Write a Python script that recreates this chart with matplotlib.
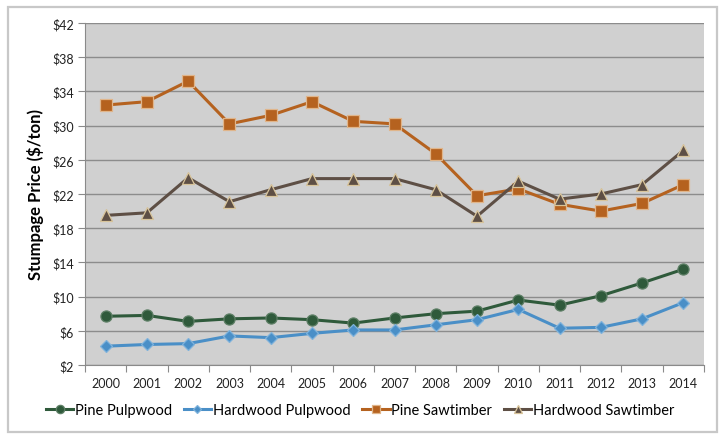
import matplotlib
matplotlib.use("Agg")
import matplotlib.pyplot as plt
from matplotlib.patches import Rectangle
import numpy as np

plt.rcParams['font.family'] = ['Lato', 'DejaVu Sans']

years = ["2000", "2001", "2002", "2003", "2004", "2005", "2006", "2007",
         "2008", "2009", "2010", "2011", "2012", "2013", "2014"]

pine_pulpwood = [7.7, 7.8, 7.1, 7.4, 7.5, 7.3, 6.9, 7.5, 8.0, 8.3, 9.6, 9.0, 10.1, 11.6, 13.2]
hardwood_pulpwood = [4.2, 4.4, 4.5, 5.4, 5.2, 5.7, 6.1, 6.1, 6.7, 7.3, 8.5, 6.3, 6.4, 7.4, 9.3]
pine_sawtimber = [32.4, 32.8, 35.2, 30.2, 31.2, 32.8, 30.5, 30.2, 26.7, 21.8, 22.6, 20.8, 20.0, 20.9, 23.1]
hardwood_sawtimber = [19.5, 19.8, 23.9, 21.1, 22.5, 23.8, 23.8, 23.8, 22.5, 19.4, 23.5, 21.4, 22.0, 23.1, 27.1]

y_ticks = [2, 6, 10, 14, 18, 22, 26, 30, 34, 38, 42]

fig = plt.figure(figsize=(7.2, 4.35), dpi=100)
fig.patch.set_facecolor("white")

# outer chart border
fig.patches.append(Rectangle((8 / 720, 2 / 435), 709 / 720, 425 / 435,
                             transform=fig.transFigure, fill=False,
                             edgecolor="#C8C8C8", linewidth=1.6))

ax = fig.add_axes([85 / 720, (435 - 366) / 435, (704 - 85) / 720, (366 - 24) / 435])
ax.set_facecolor("#D0D0D0")

x = np.arange(len(years))

series = [
    ("Pine Pulpwood", pine_pulpwood, "#2F5A3B", "o", 8, "#5E7F66"),
    ("Hardwood Pulpwood", hardwood_pulpwood, "#4A8FC7", "D", 6, "#7FB3DC"),
    ("Pine Sawtimber", pine_sawtimber, "#B5621F", "s", 8, "#E0B58A"),
    ("Hardwood Sawtimber", hardwood_sawtimber, "#5E4F45", "^", 8, "#D8C49A"),
]
for name, vals, col, mk, ms, edge in series:
    ax.plot(x, vals, color=col, linewidth=2.2, marker=mk, markersize=ms,
            markerfacecolor=col, markeredgecolor=edge, markeredgewidth=0.9,
            label=name, zorder=3)

ax.set_xlim(-0.5, len(years) - 0.5)
ax.set_ylim(2, 42)
ax.set_yticks(y_ticks)
ax.set_yticklabels([f"${v}" for v in y_ticks], fontsize=9, color="#222222")
ax.set_xticks(x)
ax.set_xticklabels(years, fontsize=9, color="#222222")
ax.tick_params(axis="x", length=0, pad=9)
ax.set_xticks(np.arange(-0.5, len(years), 1), minor=True)
ax.tick_params(axis="x", which="minor", length=5, color="#8A8A8A", width=0.8)
ax.tick_params(axis="y", length=5, color="#8A8A8A", width=0.8, pad=3)

ax.grid(axis="y", color="#8C8C8C", linewidth=1.0, zorder=1)
ax.set_axisbelow(True)
for side in ("top", "right"):
    ax.spines[side].set_visible(False)
ax.spines["left"].set_color("#8A8A8A")
ax.spines["bottom"].set_color("#8A8A8A")

ax.set_ylabel("Stumpage Price ($/ton)", fontsize=12, fontweight="bold", labelpad=6)

leg = fig.legend(loc="center", bbox_to_anchor=(0.5, (435 - 411) / 435), ncol=4,
                 frameon=False, fontsize=10.5, handlelength=1.9, handletextpad=0.1,
                 columnspacing=0.8, markerscale=0.75)

fig.savefig("out.png", dpi=100, facecolor="white")
